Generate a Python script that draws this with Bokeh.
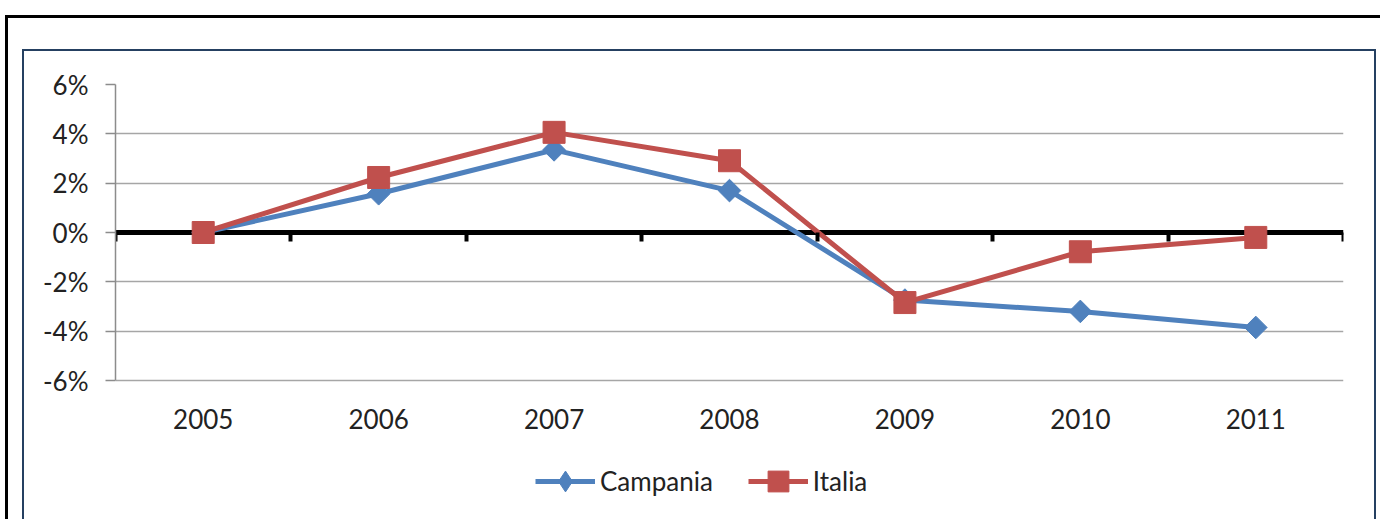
import math
from bokeh.plotting import figure
from bokeh.models import (Range1d, FixedTicker, NumeralTickFormatter, LinearAxis,
                          Legend, LegendItem, Span, InlineStyleSheet)
from bokeh.embed import file_html
from bokeh.resources import INLINE

years = ["2005", "2006", "2007", "2008", "2009", "2010", "2011"]
campania = [0.0, 0.0157, 0.0335, 0.0170, -0.0274, -0.0320, -0.0385]
italia = [0.0, 0.0223, 0.0406, 0.0291, -0.0284, -0.0078, -0.0020]
y_ticks = [-0.06, -0.04, -0.02, 0.0, 0.02, 0.04, 0.06]

xs = [i + 0.5 for i in range(len(years))]
bounds = list(range(len(years) + 1))

FONT = "Lato"
TXT = "#222222"
BLUE = "#4F81BD"
RED = "#C0504D"

W, H = 1380, 519
Y_MIN, Y_MAX = y_ticks[0], y_ticks[-1]
# plot area spans 84..380 px for -6%..6%; the frame continues to the bottom
# edge so the legend can sit inside it
px_per_unit = (380 - 84) / (Y_MAX - Y_MIN)
y_start = Y_MAX - (H - 84) / px_per_unit

p = figure(width=W, height=H, output_backend="svg", toolbar_location=None,
           x_axis_location=None,
           x_range=Range1d(0, len(years)), y_range=Range1d(y_start, Y_MAX),
           min_border_left=115, min_border_top=84, min_border_right=37,
           min_border_bottom=0)
p.outline_line_color = None
p.background_fill_color = "white"
p.border_fill_color = "white"

# category labels, placed under the -6% line
xa = LinearAxis(fixed_location=Y_MIN, ticker=FixedTicker(ticks=xs),
                major_label_overrides={x: y for x, y in zip(xs, years)})
xa.axis_line_color = None
xa.major_tick_line_color = None
xa.minor_tick_line_color = None
xa.major_tick_out = 0
xa.major_tick_in = 0
xa.major_label_standoff = 28
xa.major_label_text_font = FONT
xa.major_label_text_font_size = "26px"
xa.major_label_text_color = TXT
p.add_layout(xa, "below")

# zero axis: boundary ticks at y = 0
za = LinearAxis(fixed_location=0, ticker=FixedTicker(ticks=bounds),
                major_label_overrides={b: "" for b in bounds})
za.axis_line_color = None
za.major_tick_line_color = "black"
za.major_tick_line_width = 4
za.major_tick_out = 9
za.major_tick_in = 0
za.minor_tick_line_color = None
za.major_label_text_font_size = "1px"
za.major_label_standoff = 0
p.add_layout(za, "below")

zero_line = Span(location=0, dimension="width", line_color="black",
                 line_width=5, level="underlay")
p.add_layout(zero_line)

# y axis
ya = p.yaxis[0]
ya.bounds = (Y_MIN, Y_MAX)
ya.ticker = FixedTicker(ticks=y_ticks)
ya.formatter = NumeralTickFormatter(format="0%")
ya.axis_line_color = "#8C8C8C"
ya.axis_line_width = 1.5
ya.major_tick_line_color = "#8C8C8C"
ya.major_tick_line_width = 1.5
ya.major_tick_out = 10
ya.major_tick_in = 0
ya.minor_tick_line_color = None
ya.major_label_standoff = 17
ya.major_label_text_font = FONT
ya.major_label_text_font_size = "26px"
ya.major_label_text_color = TXT

for g in p.xgrid:
    g.visible = False
p.ygrid.ticker = FixedTicker(ticks=[t for t in y_ticks if t != 0])
p.ygrid.grid_line_color = "#A6A6A6"
p.ygrid.grid_line_width = 1.5

cl = p.line(xs, campania, line_color=BLUE, line_width=5, line_join="round")
cs = p.scatter(xs, campania, marker="square", angle=math.pi / 4, size=16,
               fill_color=BLUE, line_color=BLUE)
# legend proxy: diamond marker (legend glyphs are never rotated)
cleg = p.scatter(xs, campania, marker="diamond", size=0,
                 fill_color=BLUE, line_color=BLUE)
il = p.line(xs, italia, line_color=RED, line_width=5, line_join="round")
isq = p.scatter(xs, italia, marker="square", size=22,
                fill_color=RED, line_color=RED)

legend = Legend(items=[LegendItem(label="Campania", renderers=[cl, cleg]),
                       LegendItem(label="Italia", renderers=[il, isq])],
                location=(420, 12), orientation="horizontal",
                glyph_width=60, glyph_height=52, label_height=52,
                label_standoff=5, spacing=35, padding=0, margin=0,
                border_line_color=None, background_fill_alpha=0,
                label_text_font=FONT, label_text_font_size="26px",
                label_text_color=TXT)
p.add_layout(legend, "center")

css = """
:host { position: relative; }
:host::before {
  content: ""; position: absolute; left: 5px; top: 15px;
  width: 1375px; height: 504px; box-sizing: border-box;
  border-left: 3px solid #000000; border-top: 3px solid #000000;
  pointer-events: none; z-index: 10;
}
:host::after {
  content: ""; position: absolute; left: 22px; top: 49px;
  width: 1354px; height: 470px; box-sizing: border-box;
  border-left: 2px solid #254061; border-top: 2px solid #254061;
  border-right: 2px solid #254061;
  pointer-events: none; z-index: 10;
}
"""
p.stylesheets = [InlineStyleSheet(css=css)]

open("out.html", "w").write(file_html(p, INLINE))
